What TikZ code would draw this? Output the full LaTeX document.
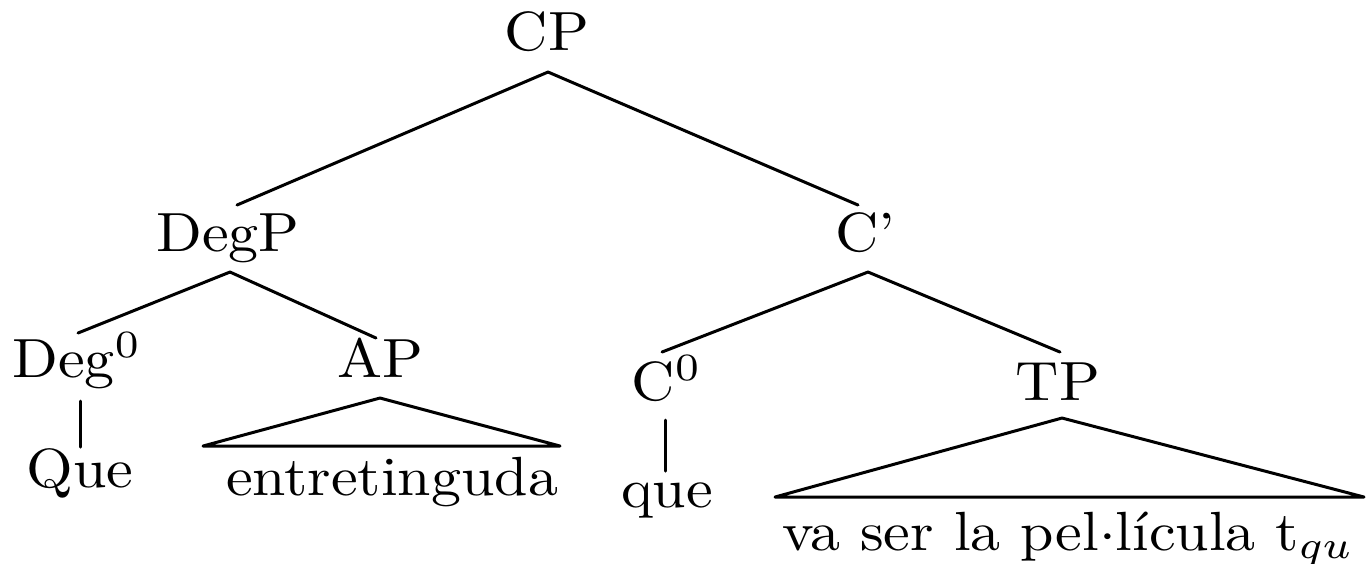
\documentclass[tikz,border=0pt]{standalone}
\usepackage{tikz}
\tikzset{
  lab/.style={inner sep=0pt, anchor=base, yscale=0.92, transform shape, font=\fontsize{10}{12}\selectfont},
  edge/.style={line width=0.5pt, line cap=round, line join=round}
}
\begin{document}
\begin{tikzpicture}[x=0.166667pt, y=-0.166667pt]
\useasboundingbox (0,0) rectangle (1366,563);
% labels
\node[lab] (CP) at (547,50) {CP};
\node[lab] (DegP) at (228,251) {DegP};
\node[lab] (Cbar) at (865,251) {C'};
\node[lab] (Deg0) at (77,377) {Deg$^0$};
\node[lab] (AP) at (380,377) {AP};
\node[lab] (C0) at (667,400) {C$^0$};
\node[lab] (TP) at (1058,400) {TP};
\node[lab] (Que) at (80,487) {Que};
\node[lab] (entr) at (392,495) {entretinguda};
\node[lab] (que) at (667,507) {que};
\node[lab] (vaser) at (1068,550) {va ser la pel$\cdot$l\'icula t$_{qu}$};
% attachment points
\coordinate (CPb) at (548,72);
\coordinate (DegPt) at (237,205);
\coordinate (Cbart) at (858,205);
\coordinate (DegPb) at (230,272);
\coordinate (Deg0t) at (78,333);
\coordinate (APt) at (376,338);
\coordinate (Cbarb) at (868,272);
\coordinate (C0t) at (662,352);
\coordinate (TPt) at (1060,352);
\coordinate (Deg0b) at (80,401);
\coordinate (QueT) at (80,447);
\coordinate (C0b) at (665,420);
\coordinate (queT) at (665,471);
\coordinate (APb) at (380,398);
\coordinate (APl) at (203,446);
\coordinate (APr) at (560,446);
\coordinate (TPb) at (1062,418);
\coordinate (TPl) at (775,497);
\coordinate (TPr) at (1364,497);
% edges
\draw[edge] (DegPt) -- (CPb) -- (Cbart);
\draw[edge] (Deg0t) -- (DegPb) -- (APt);
\draw[edge] (C0t) -- (Cbarb) -- (TPt);
\draw[edge] (Deg0b) -- (QueT);
\draw[edge] (C0b) -- (queT);
\draw[edge] (APl) -- (APb) -- (APr) -- cycle;
\draw[edge] (TPl) -- (TPb) -- (TPr) -- cycle;
\end{tikzpicture}
\end{document}
